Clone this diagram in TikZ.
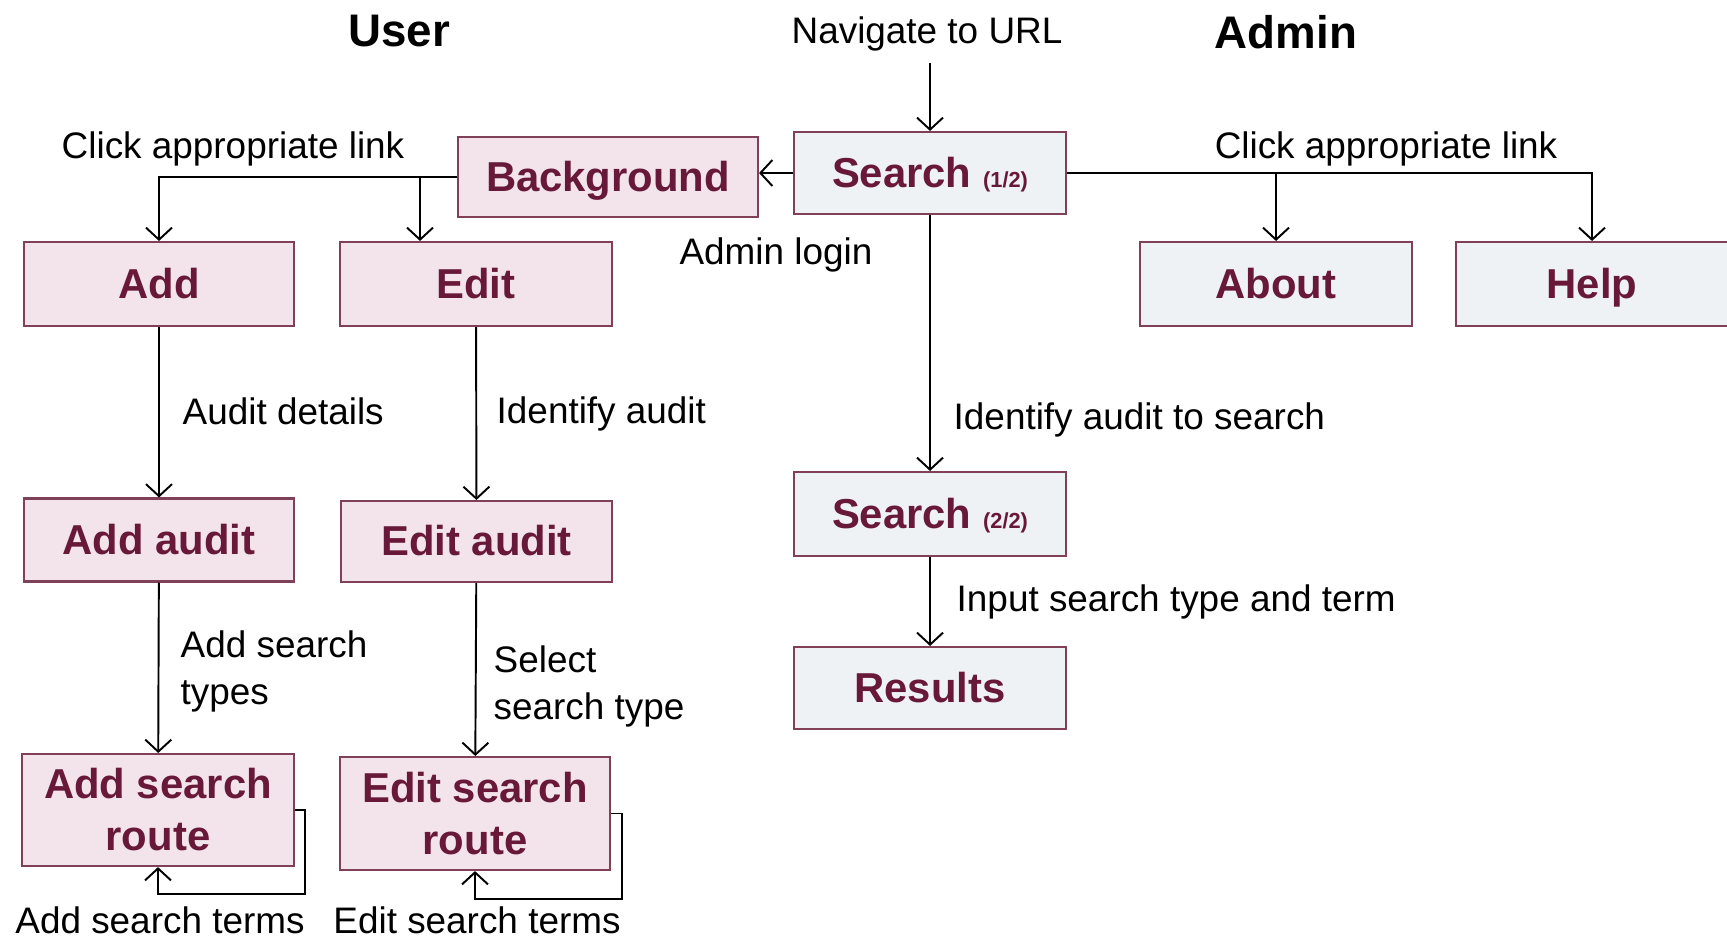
\documentclass[tikz,border=0pt]{standalone}
\usepackage{fontspec}
\setmainfont{Liberation Sans}
\usetikzlibrary{arrows.meta}
\definecolor{boxtext}{RGB}{104,24,56}
\definecolor{boxline}{RGB}{128,64,88}
\definecolor{userfill}{RGB}{242,228,234}
\definecolor{adminfill}{RGB}{239,242,244}
\newcommand{\pagepart}[1]{{\fontsize{6.2}{7}\selectfont #1}}
\begin{document}
\begin{tikzpicture}[
    page/.style={draw=boxline, line width=0.6pt, text=boxtext, inner sep=0pt,
      minimum width=2.72cm, minimum height=0.83cm, align=center,
      text height=0.82em, text depth=0pt,
      font=\fontsize{11.9}{14.8}\selectfont\bfseries},
    userpage/.style={page, fill=userfill},
    adminpage/.style={page, fill=adminfill},
    routepage/.style={userpage, text height={}, text depth={}},
    lbl/.style={font=\fontsize{10.5}{13.4}\selectfont, inner sep=0pt},
    title/.style={font=\fontsize{13}{15}\selectfont\bfseries, inner sep=0pt},
    link/.style={line width=0.55pt, -{Straight Barb[length=1.2mm,width=2.6mm]}}
  ]
  \useasboundingbox (0,0) rectangle (17.27,-9.37);
  % Titles
  \node[title] (user) at (3.99,-0.31) {User};
  \node[title] (admin) at (12.86,-0.32) {Admin};
  \node[lbl] (url) at (9.27,-0.335) {Navigate to URL};
  % Admin pages
  \node[adminpage, minimum height=0.82cm] (search1) at (9.30,-1.73) {Search \pagepart{(1/2)}};
  \node[adminpage, minimum height=0.84cm] (about) at (12.76,-2.84) {About};
  \node[adminpage, minimum height=0.84cm] (help) at (15.92,-2.84) {Help};
  \node[adminpage, minimum height=0.84cm] (search2) at (9.30,-5.14) {Search \pagepart{(2/2)}};
  \node[adminpage, minimum height=0.82cm] (results) at (9.30,-6.88) {Results};
  % User pages
  \node[userpage, minimum width=3.00cm, minimum height=0.80cm] (bg) at (6.08,-1.77) {Background};
  \node[userpage, minimum width=2.70cm, minimum height=0.84cm] (add) at (1.59,-2.84) {Add};
  \node[userpage, minimum height=0.84cm] (edit) at (4.76,-2.84) {Edit};
  \node[userpage, minimum width=2.70cm] (addaudit) at (1.59,-5.40) {Add audit};
  \node[userpage, minimum width=2.71cm, minimum height=0.81cm] (editaudit) at (4.765,-5.415) {Edit audit};
  \node[routepage, minimum height=1.12cm] (addroute) at (1.58,-8.10) {Add search\\route};
  \node[routepage, minimum width=2.70cm, minimum height=1.13cm] (editroute) at (4.75,-8.135) {Edit search\\route};
  % Admin links
  \draw[link] ([yshift=-0.12cm]search1.north |- url.south) -- (search1.north);
  \draw[link] (search1.west) -- (search1.west -| bg.east);
  \draw[link] (search1.east) -| (help.north);
  \draw[link] (about.north |- search1.east) -- (about.north);
  \draw[link] (search1) -- (search2);
  \draw[link] (search2) -- (results);
  % User links
  \draw[link] (bg.west) -| (add.north);
  \draw[link] ([xshift=-0.56cm]edit.north |- bg.west) -- ([xshift=-0.56cm]edit.north);
  \draw[link] (add) -- (addaudit);
  \draw[link] (addaudit) -- (addroute);
  \draw[link] (edit) -- (editaudit);
  \draw[link] (editaudit) -- (editroute);
  \draw[link] (addroute.east) -| ++(0.10,-0.84) -| (addroute.south);
  \draw[link] (editroute.east) -| ++(0.11,-0.855) -| (editroute.south);
  % Labels
  \node[lbl] (clickuser) at (2.33,-1.49) {Click appropriate link};
  \node[lbl] (clickadmin) at (13.86,-1.49) {Click appropriate link};
  \node[lbl] (login) at (7.76,-2.55) {Admin login};
  \node[lbl, anchor=west] (details) at (1.82,-4.11) {Audit details};
  \node[lbl, anchor=west] (identify) at (4.96,-4.135) {Identify audit};
  \node[lbl, anchor=west] (identsearch) at (9.53,-4.195) {Identify audit to search};
  \node[lbl, anchor=west] (input) at (9.56,-6.015) {Input search type and term};
  \node[lbl, anchor=west, align=left] (types) at (1.80,-6.71) {Add search\\types};
  \node[lbl, anchor=west, align=left] (select) at (4.93,-6.86) {Select\\search type};
  \node[lbl] (addterms) at (1.60,-9.20) {Add search terms};
  \node[lbl] (editterms) at (4.77,-9.20) {Edit search terms};
\end{tikzpicture}
\end{document}
